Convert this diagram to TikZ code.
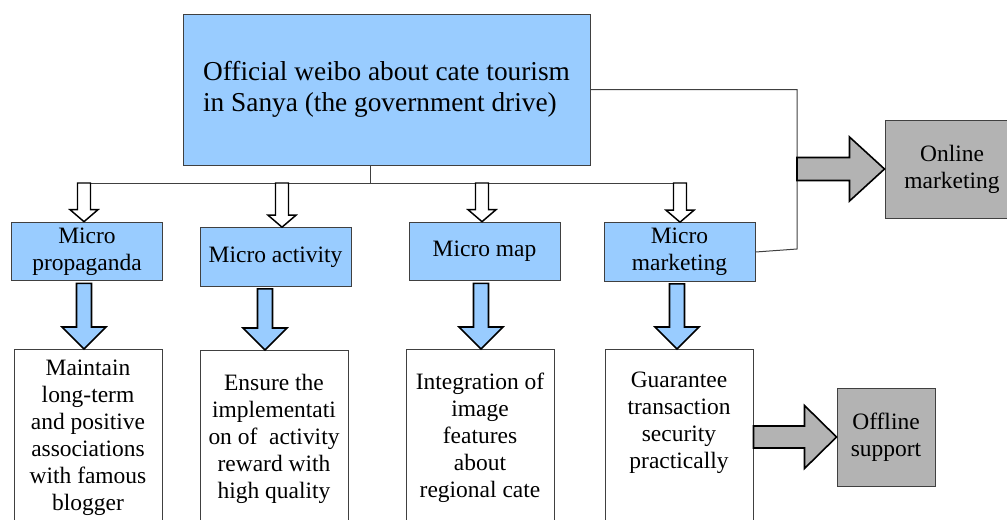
\documentclass[tikz,border=0pt]{standalone}
\usepackage{fontspec}
\setmainfont{Liberation Serif}
\usetikzlibrary{calc}

\definecolor{microblue}{RGB}{153,204,255}
\definecolor{boxgray}{RGB}{179,179,179}
\definecolor{linegray}{RGB}{64,64,64}

% block arrows: style, tail, tip, shaft half width, head half width, head length
\newcommand{\downblock}[6]{%
  \draw[#1] ($(#2)+(-#4,0)$) -- ($(#3)+(-#4,-#6)$) -- ($(#3)+(-#5,-#6)$) -- (#3)
    -- ($(#3)+(#5,-#6)$) -- ($(#3)+(#4,-#6)$) -- ($(#2)+(#4,0)$) -- cycle;}
\newcommand{\rightblock}[6]{%
  \draw[#1] ($(#2)+(0,-#4)$) -- ($(#3)+(-#6,-#4)$) -- ($(#3)+(-#6,-#5)$) -- (#3)
    -- ($(#3)+(-#6,#5)$) -- ($(#3)+(-#6,#4)$) -- ($(#2)+(0,#4)$) -- cycle;}

\tikzset{
  box/.style={draw=linegray, line width=0.75pt, inner sep=0pt, align=center,
    font=\fontsize{17.6}{20.25}\selectfont},
  microbox/.style={box, fill=microblue, minimum width=113.25pt, minimum height=44pt},
  aimbox/.style={box, fill=white, anchor=north, minimum width=111pt, minimum height=132pt},
  channel/.style={box, fill=boxgray, minimum height=73.5pt},
  hollow/.style={draw=black, fill=white, line width=1.1pt},
  bluearrow/.style={draw=black, fill=microblue, line width=1.2pt},
  grayarrow/.style={draw=black, fill=boxgray, line width=1.2pt},
  bus/.style={draw=linegray, line width=0.75pt}
}

\begin{document}
\begin{tikzpicture}[x=0.75pt, y=-0.75pt]
  \useasboundingbox (0,0) rectangle (1007,519);
  \clip (0,0) rectangle (1007,519);

  % top
  \node[box, fill=microblue, minimum width=305.25pt, minimum height=113.25pt, align=left,
    font=\fontsize{20.5}{23.25}\selectfont] (weibo) at (386.5,89.5)
    {Official weibo about cate tourism\\in Sanya (the government drive)};

  % micro row
  \node[microbox] (prop) at (87,251.5) {Micro\\propaganda};
  \node[microbox] (act) at (275.5,257) {Micro activity};
  \node[microbox] (map) at (484.5,251.5) {Micro map};
  \node[microbox] (mkt) at (679.5,252) {Micro\\marketing};

  % aims
  \node[aimbox] (keep) at (88,349) {Maintain\\long-term\\and positive\\associations\\with famous\\blogger};
  \node[aimbox] (ensure) at (274,350) {Ensure the\\implementati\\on of~ activity\\reward with\\high quality};
  \node[aimbox] (image) at (480,349) {Integration of\\image\\features\\about\\regional cate};
  \node[aimbox] (secure) at (679,349) {Guarantee\\transaction\\security\\practically\\ \strut};

  % channels
  \node[channel, minimum width=100.5pt] (online) at (952,169) {Online\\marketing};
  \node[channel, minimum width=73.5pt] (offline) at (886,437) {Offline\\support};

  % bus lines
  \coordinate (fork) at (370,183);
  \coordinate (busl) at (84,183);
  \coordinate (busr) at (680,183);
  \coordinate (bend) at (797,249);
  \draw[bus] (weibo.south -| fork) -- (fork);
  \draw[bus] (busl) -- (busr);
  \draw[bus] (weibo.east) -| (bend) -- (mkt.east);

  % hollow arrows
  \foreach \x/\target [count=\i] in {84/prop,282/act,482/map,680/mkt} {
    \coordinate (h\i) at (\x,183);
    \coordinate (ht\i) at (\target.north -| h\i);
    \downblock{hollow}{h\i}{ht\i}{6.5}{14}{12}
  }

  % blue arrows
  \foreach \x/\src/\dst [count=\i] in {84/prop/keep,265/act/ensure,481/map/image,677/mkt/secure} {
    \coordinate (bx\i) at (\x,300);
    \coordinate (bs\i) at ([yshift=-1.5pt]\src.south -| bx\i);
    \coordinate (bt\i) at (\dst.north -| bx\i);
    \downblock{bluearrow}{bs\i}{bt\i}{7.5}{22}{22}
  }

  % side arrows
  \coordinate (onl) at (bend |- online.west);
  \rightblock{grayarrow}{onl}{online.west}{11.5}{32}{35}
  \coordinate (offl) at (secure.east |- offline.west);
  \rightblock{grayarrow}{offl}{offline.west}{11}{31.5}{32}
\end{tikzpicture}
\end{document}
